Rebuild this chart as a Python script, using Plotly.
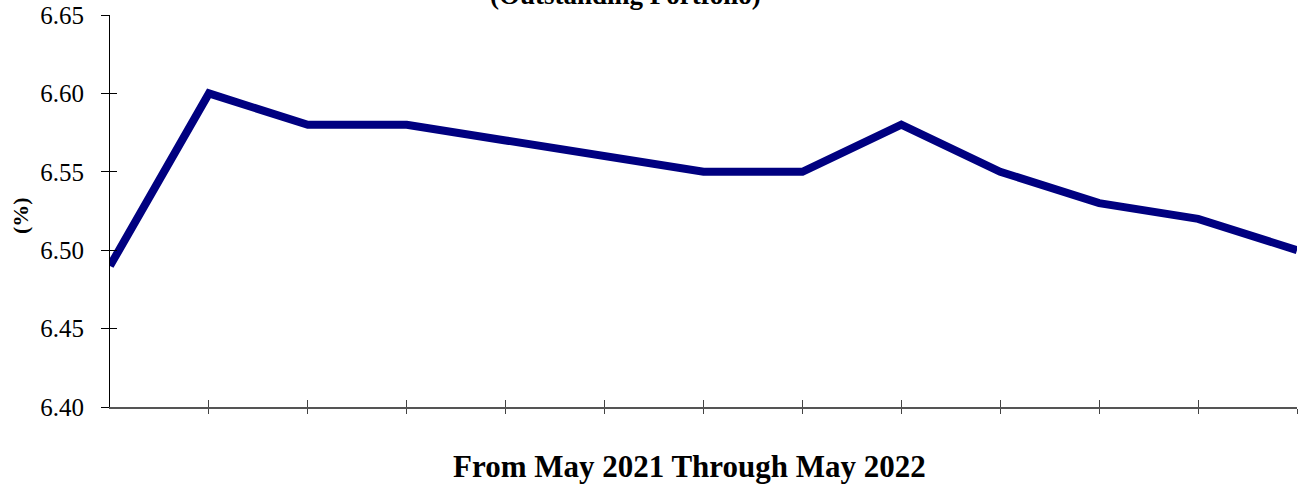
import plotly.graph_objects as go

months = ["May 2021", "Jun 2021", "Jul 2021", "Aug 2021", "Sep 2021", "Oct 2021",
          "Nov 2021", "Dec 2021", "Jan 2022", "Feb 2022", "Mar 2022", "Apr 2022", "May 2022"]
rates = [6.49, 6.60, 6.58, 6.58, 6.57, 6.56, 6.55, 6.55, 6.58, 6.55, 6.53, 6.52, 6.50]
y_ticks = [6.40, 6.45, 6.50, 6.55, 6.60, 6.65]
y_tick_labels = ["6.40", "6.45", "6.50", "6.55", "6.60", "6.65"]

font_family = "Liberation Serif, Times New Roman, serif"

L, R, T, B = 110, 1, 15, 78
W, H = 1298, 485
PW, PH = W - L - R, H - T - B

fig = go.Figure()
fig.add_trace(go.Scatter(
    x=list(range(len(months))), y=rates, mode="lines",
    line=dict(color="#000080", width=8), hoverinfo="skip",
    text=months, showlegend=False, cliponaxis=False,
))
# invisible trace on overlay axes to render crossing ticks
fig.add_trace(go.Scatter(x=[0], y=[6.40], xaxis="x2", yaxis="y2",
                         mode="markers", marker=dict(opacity=0), showlegend=False,
                         hoverinfo="skip"))

xr = [0, len(months) - 1]
xt = list(range(1, len(months)))
fig.update_layout(
    width=W, height=H,
    margin=dict(l=L, r=R, t=T, b=B),
    paper_bgcolor="white", plot_bgcolor="white",
    font=dict(family=font_family, color="black", size=25),
    xaxis=dict(range=xr, tickvals=xt, ticktext=[""] * len(xt),
               ticks="outside", ticklen=5, tickwidth=1.2, tickcolor="#444",
               showline=True, linecolor="#555", linewidth=1.5, showgrid=False, zeroline=False),
    yaxis=dict(range=[6.40, 6.65], tickvals=y_ticks, ticktext=y_tick_labels,
               ticks="outside", ticklen=8, tickwidth=1.2, tickcolor="black",
               showline=True, linecolor="black", linewidth=1.2, showgrid=False, zeroline=False,
               tickfont=dict(size=25, family=font_family), ticklabelstandoff=12),
    xaxis2=dict(range=xr, overlaying="x", tickvals=xt,
                ticktext=[""] * len(xt), ticks="inside", ticklen=7, tickwidth=1.2,
                tickcolor="#444", showline=False, showgrid=False, zeroline=False, side="bottom",
                anchor="y2"),
    yaxis2=dict(range=[6.40, 6.65], overlaying="y", tickvals=y_ticks, ticktext=[""] * 6,
                ticks="inside", ticklen=7, tickwidth=1.2, tickcolor="black",
                showline=False, showgrid=False, zeroline=False, side="left", anchor="x2"),
    annotations=[
        dict(text="<b>(Outstanding Portfolio)</b>", xref="paper", yref="paper",
             x=(625 - L) / PW, y=1 + (T + 5) / PH, xanchor="center", yanchor="middle",
             showarrow=False, font=dict(size=27, family=font_family)),
        dict(text="<b>From May 2021 Through May 2022</b>", xref="paper", yref="paper",
             x=(689 - L) / PW, y=-(466 - (H - B)) / PH, xanchor="center", yanchor="middle",
             showarrow=False, font=dict(size=31, family=font_family)),
        dict(text="<b>(%)</b>", xref="paper", yref="paper", textangle=-90,
             x=-(L - 20) / PW, y=((H - B) - 216) / PH, xanchor="center", yanchor="middle",
             showarrow=False, font=dict(size=22, family=font_family)),
    ],
)

fig.write_html("out.html", config={"displayModeBar": False},
               post_script="document.body.style.margin='0';document.body.style.padding='0';")
